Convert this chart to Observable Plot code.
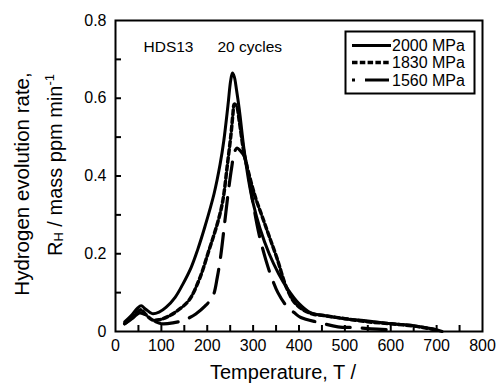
<!DOCTYPE html>
<html>
<head>
<meta charset="utf-8">
<script src="https://cdn.jsdelivr.net/npm/d3@7"></script>
<script src="https://cdn.jsdelivr.net/npm/@observablehq/plot@0.6"></script>
<style>
  html, body { margin: 0; padding: 0; background: #fff; }
  #chart svg { font-family: "Liberation Sans", Arial, sans-serif; display: block; }
</style>
</head>
<body>
<div id="chart"></div>
<script>
// ---- data ----
const seriesNames = ["2000 MPa", "1830 MPa", "1560 MPa"];

const temps2000 = [20,35,48,56,65,80,95,110,130,146,165,179,195,215,228,236,245,251,255,259,264,270,280,290,300,315,335,355,375,400,426,450,500,550,600,650,690,712];
const rate2000  = [0.025,0.042,0.06,0.066,0.058,0.046,0.05,0.062,0.088,0.12,0.165,0.21,0.27,0.355,0.43,0.49,0.58,0.645,0.665,0.655,0.62,0.57,0.47,0.39,0.33,0.265,0.2,0.15,0.11,0.072,0.048,0.042,0.033,0.027,0.02,0.015,0.007,0];

const temps1830 = [20,35,48,56,65,80,95,117,140,160,183,204,215,225,234,244,252,256,259,264,270,280,292,305,320,335,353,372,390,410,430,460,500,550,600,650,700];
const rate1830  = [0.02,0.035,0.05,0.056,0.045,0.03,0.03,0.04,0.058,0.08,0.135,0.21,0.25,0.29,0.337,0.43,0.51,0.56,0.585,0.58,0.54,0.46,0.4,0.345,0.295,0.245,0.185,0.115,0.075,0.055,0.045,0.04,0.033,0.025,0.02,0.014,0.004];

const temps1560 = [20,38,52,62,75,88,100,125,146,162,175,195,212,222,230,238,246,253,259,265,272,281,290,300,313,328,340,354,372,390,404,444,485,520,557,590];
const rate1560  = [0.02,0.035,0.048,0.045,0.035,0.025,0.02,0.022,0.028,0.036,0.045,0.065,0.09,0.14,0.2,0.28,0.36,0.42,0.46,0.472,0.465,0.45,0.4,0.33,0.25,0.183,0.14,0.1,0.067,0.048,0.036,0.023,0.012,0.01,0.007,0.005];

const xMajorTicks = [0,100,200,300,400,500,600,700,800];
const xMinorTicks = [50,100,150,200,250,300,350,400,450,500,550,600,650,700,750];
const yMajorTicks = [0,0.2,0.4,0.6,0.8];
const yMinorTicks = [0.1,0.2,0.3,0.4,0.5,0.6,0.7];
const yTickLabels = ["0","0.2","0.4","0.6","0.8"];

const xTitle = "Temperature, T /";
const yTitle1 = "Hydrogen evolution rate,";
const noteSample = "HDS13";
const noteCycles = "20 cycles";

// ---- build table ----
const toRows = (ts, rs, name) => ts.map((t, i) => ({T: t, R: rs[i], s: name}));
const d2000 = toRows(temps2000, rate2000, seriesNames[0]);
const d1830 = toRows(temps1830, rate1830, seriesNames[1]);
const d1560 = toRows(temps1560, rate1560, seriesNames[2]);

const styles = {
  "2000 MPa": {strokeWidth: 3, strokeDasharray: null},
  "1830 MPa": {strokeWidth: 3.5, strokeDasharray: "5,3"},
  "1560 MPa": {strokeWidth: 3.2, strokeDasharray: "24,12"}
};

const W = 499, H = 383;
const mL = 115, mR = 17, mT = 20, mB = 52;
const tickLen = 6;
const xDomain = [0, 800], yDomain = [0, 0.8];
const frameW = W - mL - mR, frameH = H - mT - mB;
const yTickSpan = (yDomain[1] - yDomain[0]) * tickLen / frameH;
const xTickSpan = (xDomain[1] - xDomain[0]) * tickLen / frameW;

const plot = Plot.plot({
  width: W,
  height: H,
  marginLeft: mL,
  marginRight: mR,
  marginTop: mT,
  marginBottom: mB,
  style: {fontFamily: '"Liberation Sans", Arial, sans-serif', fontSize: "16px", color: "#000", background: "#fff"},
  x: {domain: xDomain},
  y: {domain: yDomain},
  marks: [
    Plot.ruleX(xMinorTicks, {x: d => d, y1: yDomain[0], y2: yDomain[0] + yTickSpan, stroke: "#000", strokeWidth: 2}),
    Plot.ruleY(yMinorTicks, {y: d => d, x1: xDomain[0], x2: xDomain[0] + xTickSpan, stroke: "#000", strokeWidth: 2}),
    Plot.axisX({ticks: xMajorTicks, tickSize: 0, tickPadding: 8, tickFormat: d => String(d), label: null, fontSize: 16}),
    Plot.axisY({ticks: yMajorTicks, tickSize: 0, tickPadding: 9, tickFormat: d => yTickLabels[yMajorTicks.indexOf(d)], label: null, fontSize: 16}),
    Plot.line(d2000, {x: "T", y: "R", stroke: "#000", strokeWidth: styles["2000 MPa"].strokeWidth, curve: "catmull-rom"}),
    Plot.line(d1830, {x: "T", y: "R", stroke: "#000", strokeWidth: styles["1830 MPa"].strokeWidth, strokeDasharray: styles["1830 MPa"].strokeDasharray, curve: "catmull-rom"}),
    Plot.line(d1560, {x: "T", y: "R", stroke: "#000", strokeWidth: styles["1560 MPa"].strokeWidth, strokeDasharray: styles["1560 MPa"].strokeDasharray, curve: "catmull-rom"}),
    Plot.frame({stroke: "#000", strokeWidth: 2}),
    Plot.text([noteSample], {frameAnchor: "top-left", dx: 28, dy: 20, text: d => d, textAnchor: "start", fontSize: 15.5}),
    Plot.text([noteCycles], {frameAnchor: "top-left", dx: 102, dy: 20, text: d => d, textAnchor: "start", fontSize: 15.5})
  ]
});

document.getElementById("chart").appendChild(plot);

// ---- titles and legend added into the same svg ----
const svg = d3.select(plot);
const ff = '"Liberation Sans", Arial, sans-serif';

svg.append("text")
  .attr("x", 283).attr("y", 379)
  .attr("text-anchor", "middle")
  .attr("font-family", ff).attr("font-size", 20).attr("fill", "#000")
  .text(xTitle);

svg.append("text")
  .attr("transform", "translate(29,184) rotate(-90)")
  .attr("text-anchor", "middle")
  .attr("font-family", ff).attr("font-size", 20.5).attr("fill", "#000")
  .text(yTitle1);

const yl2 = svg.append("text")
  .attr("transform", "translate(62,165) rotate(-90)")
  .attr("text-anchor", "middle")
  .attr("font-family", ff).attr("font-size", 20).attr("fill", "#000");
yl2.append("tspan").text("R");
yl2.append("tspan").attr("font-size", 13).attr("dy", 1).text("H");
yl2.append("tspan").attr("dy", -1).text(" / mass ppm min");
yl2.append("tspan").attr("font-size", 13).attr("dy", -8).text("-1");

// legend
const lg = svg.append("g");
lg.append("rect").attr("x", 345.5).attr("y", 31.5).attr("width", 129).attr("height", 62)
  .attr("fill", "#fff").attr("stroke", "#000").attr("stroke-width", 2);
const legendY = [45.5, 62.5, 80];
const legendDash = [null, "5.5,2.3", "3,10,24,100"];
seriesNames.forEach((name, i) => {
  const ln = lg.append("line")
    .attr("x1", 352).attr("x2", 391).attr("y1", legendY[i]).attr("y2", legendY[i])
    .attr("stroke", "#000").attr("stroke-width", styles[name].strokeWidth);
  if (legendDash[i]) ln.attr("stroke-dasharray", legendDash[i]);
  lg.append("text").attr("x", 392).attr("y", legendY[i] + 5.5)
    .attr("text-anchor", "start")
    .attr("font-family", ff).attr("font-size", 16).attr("fill", "#000")
    .text(name);
});
</script>
</body>
</html>
